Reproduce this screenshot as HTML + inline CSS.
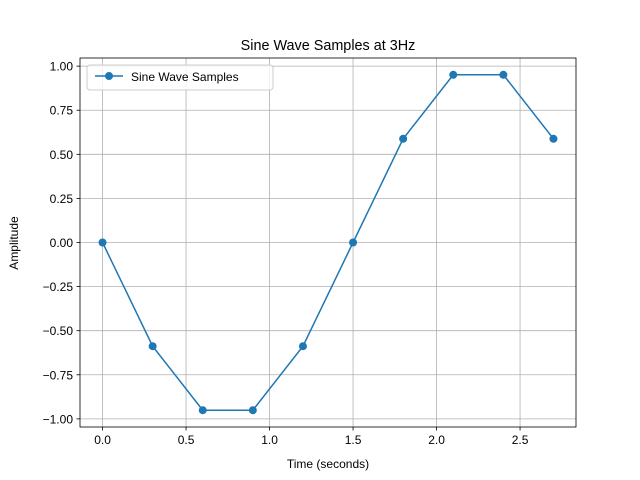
<!DOCTYPE html>
<html><head><meta charset="utf-8"><style>body{margin:0;background:#fff}svg{display:block;font-family:"Liberation Sans","DejaVu Sans",sans-serif}</style></head>
<body>
<svg id="chart" width="640" height="480">
<rect x="0" y="0" width="640" height="480" fill="#fff"/>
<g id="grid"></g>
<g id="marks"></g>
<rect x="80" y="58" width="496" height="369" fill="none" stroke="#000" stroke-width="0.8"/>
<g id="ticks"></g>
<text x="328" y="50" text-anchor="middle" font-size="14.4">Sine Wave Samples at 3Hz</text>
<text x="328" y="468" text-anchor="middle" font-size="12">Time (seconds)</text>
<text transform="translate(18,243) rotate(-90)" text-anchor="middle" font-size="12">Amplitude</text>
<g>
<rect x="87" y="65" width="186" height="25" rx="3" fill="#fff" fill-opacity="0.8" stroke="#ccc"/>
<line x1="95" y1="76" x2="123" y2="76" stroke="#1f77b4" stroke-width="1.5"/>
<circle cx="109" cy="76" r="4" fill="#1f77b4"/>
<text x="131" y="81" font-size="12">Sine Wave Samples</text>
</g>
</svg>
<script>
const times = [0, 0.3, 0.6, 0.9, 1.2, 1.5, 1.8, 2.1, 2.4, 2.7];
const amplitudes = [0, -0.588, -0.951, -0.951, -0.588, 0, 0.588, 0.951, 0.951, 0.588];
const xTicks = [0, 0.5, 1.0, 1.5, 2.0, 2.5];
const xTickLabels = ["0.0", "0.5", "1.0", "1.5", "2.0", "2.5"];
const yTicks = [-1, -0.75, -0.5, -0.25, 0, 0.25, 0.5, 0.75, 1];
const yTickLabels = ["−1.00", "−0.75", "−0.50", "−0.25", "0.00", "0.25", "0.50", "0.75", "1.00"];
const NS = "http://www.w3.org/2000/svg";
const L = 80, R = 576, T = 58, B = 427;
const xmin = -0.135, xmax = 2.835, ymin = -1.0461, ymax = 1.0461;
const xs = v => L + (v - xmin) / (xmax - xmin) * (R - L);
const ys = v => B - (v - ymin) / (ymax - ymin) * (B - T);
function mk(tag, attrs, parent) { const e = document.createElementNS(NS, tag); for (const k in attrs) e.setAttribute(k, attrs[k]); parent.appendChild(e); return e; }
const grid = document.getElementById('grid'), ticks = document.getElementById('ticks'), marks = document.getElementById('marks');
xTicks.forEach((v, i) => {
  const x = xs(v);
  const g = mk('line', {x1: x, x2: x, y1: T, y2: B, stroke: '#b0b0b0', 'stroke-width': 0.8}, grid);
  
  
  mk('line', {x1: x, x2: x, y1: B, y2: B + 3.5, stroke: '#000', 'stroke-width': 0.8}, ticks);
  const t = mk('text', {x: x, y: B + 17, 'text-anchor': 'middle', 'font-size': 12}, ticks);
  t.textContent = xTickLabels[i];
  
  
});
yTicks.forEach((v, i) => {
  const y = ys(v);
  const g = mk('line', {x1: L, x2: R, y1: y, y2: y, stroke: '#b0b0b0', 'stroke-width': 0.8}, grid);
  
  
  mk('line', {x1: L - 3.5, x2: L, y1: y, y2: y, stroke: '#000', 'stroke-width': 0.8}, ticks);
  const t = mk('text', {x: L - 7, y: y + 4.5, 'text-anchor': 'end', 'font-size': 12}, ticks);
  t.textContent = yTickLabels[i];
  
  
});
const pts = times.map((t, i) => xs(t) + ',' + ys(amplitudes[i])).join(' ');
const line = mk('polyline', {points: pts, fill: 'none', stroke: '#1f77b4', 'stroke-width': 1.5}, marks);


times.forEach((t, i) => {
  const c = mk('circle', {cx: xs(t), cy: ys(amplitudes[i]), r: 4, fill: '#1f77b4'}, marks);
  
  
});
</script>
</body></html>
